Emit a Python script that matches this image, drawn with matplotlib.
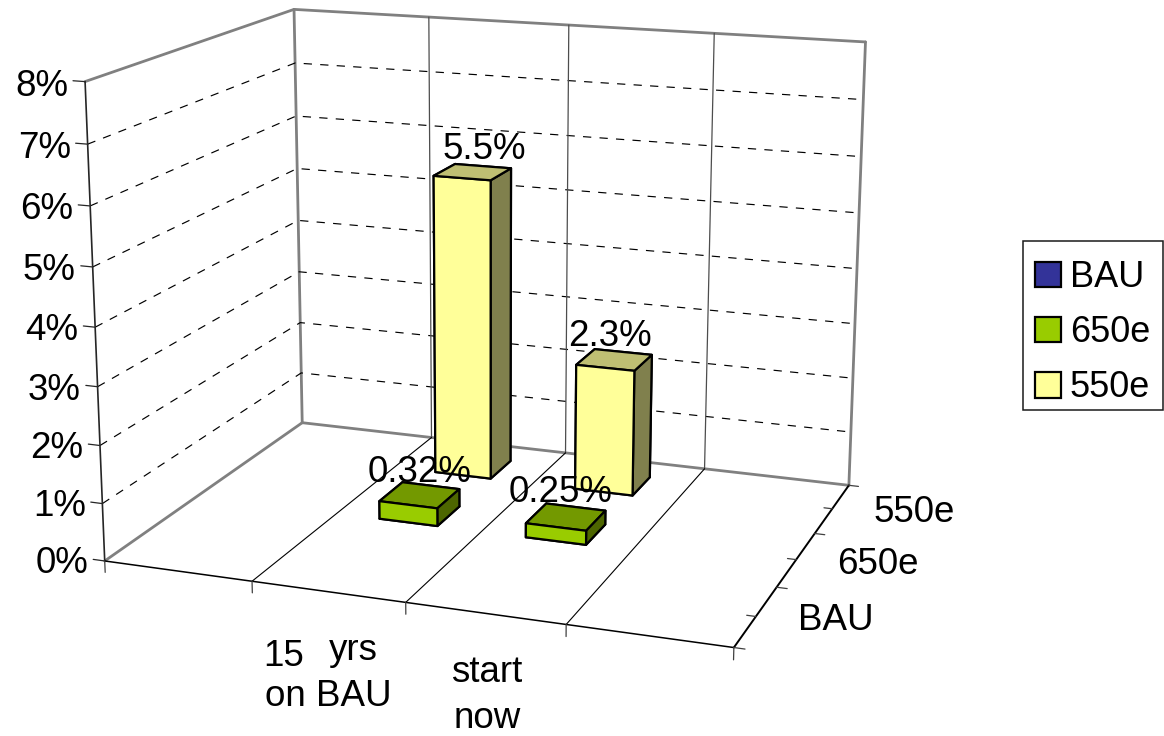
import numpy as np
import matplotlib
matplotlib.use("Agg")
import matplotlib.pyplot as plt
from matplotlib.patches import Patch, Rectangle

plt.rcParams["font.family"] = ["Liberation Sans", "DejaVu Sans"]

# chart values
categories = ["", "15 yrs on BAU", "start now", ""]
series_names = ["BAU", "650e", "550e"]
series_650e = [np.nan, 0.32, 0.25, np.nan]
series_550e = [np.nan, 5.5, 2.3, np.nan]
value_labels_650e = ["", "0.32%", "0.25%", ""]
value_labels_550e = ["", "5.5%", "2.3%", ""]
value_ticks = [0, 1, 2, 3, 4, 5, 6, 7, 8]

W, H = 1164, 736
FS = 26.5
GAP_FRACTION = 0.4  # bar width inside one category cell
GREY = "#808080"

fig = plt.figure(figsize=(W / 100, H / 100), dpi=100)
side = 898.5
ax = fig.add_axes([30.67 / W, -22.1 / H, side / W, side / H], projection="3d")
ax.set_xlim(0, 4)
ax.set_ylim(0, 3)
ax.set_zlim(0, 8)
ax.view_init(elev=14.9782, azim=-69.9224)
ax.set_proj_type("persp", focal_length=0.53536)
ax.set_box_aspect((1, 0.74357, 0.74859))
ax.set_xticks([])
ax.set_yticks([])
ax.set_zticks([])
ax.set_axis_off()
ax.computed_zorder = False


def seg(p, q, **kw):
    ax.plot([p[0], q[0]], [p[1], q[1]], [p[2], q[2]], solid_capstyle="round", **kw)


# walls and floor frame
seg((0, 0, 0), (0, 3, 0), color=GREY, lw=2, zorder=1)
seg((0, 3, 0), (4, 3, 0), color=GREY, lw=2, zorder=1)
seg((0, 3, 0), (0, 3, 8), color=GREY, lw=2, zorder=1)
seg((4, 3, 0), (4, 3, 8), color=GREY, lw=2, zorder=1)
seg((0, 0, 8), (0, 3, 8), color=GREY, lw=2, zorder=1)
seg((0, 3, 8), (4, 3, 8), color=GREY, lw=2, zorder=1)

for v in value_ticks[1:-1]:
    ax.plot([0, 0, 4], [0, 3, 3], [v, v, v], color="k", lw=0.85,
            linestyle=(0, (7, 7)), zorder=1)
for c in range(1, len(categories)):
    seg((c, 3, 0), (c, 3, 8), color="#4d4d4d", lw=0.9, zorder=1)
    seg((c, 0, 0), (c, 3, 0), color="k", lw=0.8, zorder=1)

# axis lines
seg((0, 0, 0), (0, 0, 8), color="#262626", lw=1.2, zorder=1)
seg((0, 0, 0), (4, 0, 0), color="k", lw=1.1, zorder=1)
seg((4, 0, 0), (4, 3, 0), color="k", lw=1.4, zorder=1)

# tick marks
for v in value_ticks:
    seg((0, 0, v), (-0.08, 0, v), color="#262626", lw=0.9, zorder=1)
    ax.text(-0.115, 0, v - 0.09, f"{v}%", fontsize=FS, ha="right", va="center", zorder=5)
for c in range(len(categories) + 1):
    seg((c, 0, 0), (c, 0, -0.2), color="#404040", lw=0.9, zorder=1)
for s in np.arange(0, 3.5, 0.5):
    if s == int(s):
        seg((4, s, 0), (4.065, s, 0), color="#404040", lw=0.9, zorder=1)
    else:
        seg((4, s, 0), (3.945, s, 0), color="#404040", lw=0.9, zorder=1)


def draw_bars(vals, labels, s_idx, front, top, side_col, nudges, z):
    pad = (1 - GAP_FRACTION) / 2
    for c, v in enumerate(vals):
        if np.isnan(v):
            continue
        # bar3d face order: bottom, top, front, back, left, right
        ax.bar3d(c + pad, s_idx + pad, 0, GAP_FRACTION, GAP_FRACTION, v,
                 color=[front, top, front, front, side_col, side_col],
                 edgecolor="k", linewidth=1.6, shade=False, zorder=z)
        ax.text(c + 0.5 + nudges[c], s_idx + 0.5, v + 0.42, labels[c], fontsize=FS,
                ha="center", va="center", zorder=6)


draw_bars(series_550e, value_labels_550e, 2, "#FFFF99", "#BFBF73", "#80804D",
          [0, 0.08, -0.03, 0], 3)
draw_bars(series_650e, value_labels_650e, 1, "#99CC00", "#739900", "#4D6600",
          [0, 0, -0.04, 0], 4)


def px_text(x, y, s):
    fig.text(x / W, 1 - (y + 2) / H, s, fontsize=FS, ha="center", va="center")


# wrapped category labels and series labels
words = [(284, 655, "15"), (353, 648, "yrs"), (328, 695, "on BAU"),
         (487, 671, "start"), (487, 717, "now"),
         (836, 619, series_names[0]), (878, 562, series_names[1]), (914, 510, series_names[2])]
for x, y, w in words:
    px_text(x, y, w)

# legend frame is a separate box because its entries sit low inside it
fig.add_artist(Rectangle((1022.5 / W, 1 - 410 / H), 140.5 / W, 169 / H, transform=fig.transFigure,
                         facecolor="white", edgecolor="#1a1a1a", linewidth=1.1, zorder=2))
handles = [Patch(facecolor=col, edgecolor="k", linewidth=1.6)
           for col in ["#333399", "#99CC00", "#FFFF99"]]
leg = fig.legend(handles, series_names, loc="upper left", bbox_to_anchor=(1035 / W, 1 - 260 / H),
                 fontsize=26, frameon=False, handlelength=0.72, handleheight=0.72,
                 handletextpad=0.24, labelspacing=0.56, borderpad=0, borderaxespad=0)
leg.set_zorder(3)

fig.savefig("out.png", dpi=100)
